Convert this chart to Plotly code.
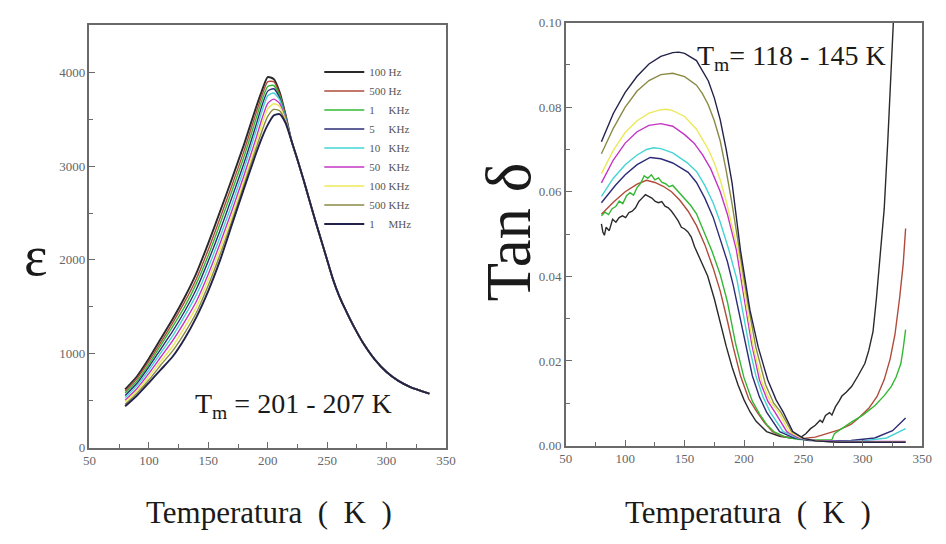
import plotly.graph_objects as go

FONT = "Liberation Serif"

freq_labels = ["100 Hz", "500 Hz", "1\u00a0\u00a0\u00a0\u00a0\u00a0KHz", "5\u00a0\u00a0\u00a0\u00a0\u00a0KHz",
               "10\u00a0\u00a0\u00a0KHz", "50\u00a0\u00a0\u00a0KHz", "100 KHz", "500 KHz",
               "1\u00a0\u00a0\u00a0\u00a0\u00a0MHz"]
colors = ["#2a2a2a", "#b04a3a", "#33b833", "#2c2c78", "#45d4d4", "#c434c4", "#ece85a", "#8a8a45", "#22224a"]

# ---------------- permittivity (left) ----------------
T_eps_head = [80, 90, 100, 110, 120, 130, 140, 150, 160, 170, 180, 190, 195, 200, 205, 210, 215]
T_eps_tail = [220, 225, 230, 235, 240, 245, 250, 255, 260, 265, 270, 275, 280, 290, 300, 310, 320, 336]
eps_tail = [3270, 3070, 2860, 2640, 2420, 2210, 2000, 1790, 1620, 1480, 1350, 1230, 1120, 940, 805, 710, 645, 575]

eps_100Hz = [620, 760, 950, 1160, 1370, 1600, 1860, 2180, 2520, 2870, 3230, 3620, 3800, 3950, 3930, 3790, 3550]
eps_500Hz = [600, 735, 920, 1120, 1330, 1550, 1800, 2110, 2450, 2800, 3160, 3560, 3750, 3900, 3900, 3770, 3540]
eps_1kHz = [580, 710, 890, 1090, 1290, 1500, 1750, 2050, 2390, 2740, 3100, 3500, 3700, 3850, 3860, 3750, 3530]
eps_5kHz = [555, 685, 860, 1050, 1240, 1450, 1690, 1990, 2320, 2670, 3030, 3430, 3640, 3800, 3825, 3730, 3520]
eps_10kHz = [530, 660, 825, 1010, 1190, 1400, 1630, 1920, 2250, 2600, 2970, 3370, 3580, 3750, 3780, 3710, 3510]
eps_50kHz = [505, 630, 790, 965, 1140, 1340, 1560, 1850, 2180, 2530, 2900, 3290, 3500, 3670, 3715, 3670, 3495]
eps_100kHz = [485, 605, 755, 920, 1080, 1280, 1500, 1790, 2120, 2470, 2840, 3230, 3440, 3610, 3665, 3640, 3485]
eps_500kHz = [460, 580, 720, 880, 1030, 1220, 1440, 1730, 2060, 2420, 2800, 3180, 3370, 3530, 3605, 3590, 3470]
eps_1MHz = [440, 555, 690, 830, 970, 1160, 1390, 1670, 2000, 2380, 2760, 3130, 3300, 3440, 3540, 3555, 3460]

eps_heads = [eps_100Hz, eps_500Hz, eps_1kHz, eps_5kHz, eps_10kHz, eps_50kHz, eps_100kHz, eps_500kHz, eps_1MHz]

# ---------------- tan delta (right) ----------------
T_tan_100Hz = [80, 81.2, 82.5, 83.9, 86.6, 89.4, 92.2, 94.9, 97.7, 100.4, 103.2, 105.9, 108.7, 111.5, 114.2, 117,
               119.7, 122.5, 125.3, 128, 130.8, 133.5, 136.3, 139, 141.8, 144.6, 147.3, 150.1, 152.8, 155.6, 158.4,
               164, 169.4, 175, 180, 185, 190, 195, 200, 205, 210, 219, 230, 240, 248, 252, 256, 260, 264, 266,
               268.6, 272, 274, 277, 280, 282.4, 286, 290.7, 296, 301.7, 305, 308.6, 311.4, 315.5, 318, 321, 323.8,
               325.2, 327]
tan_100Hz = [.0524, .0505, .0497, .0516, .0508, .0535, .0528, .0539, .0543, .0539, .0551, .0554, .0562, .0577, .0585,
             .0593, .0589, .0585, .0577, .0574, .0577, .0566, .0562, .0554, .0543, .0531, .0516, .0512, .0505, .0493,
             .0470, .0436, .0401, .0347, .0290, .0235, .0185, .0143, .0108, .0080, .0058, .0033, .0022, .0018, .0020,
             .0028, .0040, .0048, .0060, .0055, .0071, .0078, .0072, .0092, .0105, .0117, .0126, .0140, .0165, .0194,
             .0225, .0270, .0347, .0470, .0560, .0720, .0900, .0991, .1080]

T_tan_500Hz = [80, 90, 100, 110, 118, 125, 132, 139, 146, 153, 160, 167, 174, 180, 186, 191, 197, 204, 211, 217, 224,
               232, 240, 250, 260, 270, 280, 290, 296, 305, 312, 318, 323, 327, 331, 334, 336]
tan_500Hz = [.0547, .0575, .0600, .0618, .0627, .0622, .0613, .0600, .0580, .0554, .0520, .0475, .0420, .0365, .0295,
             .0232, .0165, .0110, .0079, .0055, .0033, .0022, .0018, .0017, .0020, .0028, .0037, .0050, .0064, .0088,
             .0116, .0156, .0205, .0262, .0350, .0430, .0513]

T_tan_1kHz = [80, 83, 86, 89, 92, 95, 98, 101, 104, 107, 110, 113, 116, 119, 122, 125, 128, 131, 134, 137, 140, 145,
              150, 155, 160, 166, 173, 180, 186, 193, 200, 207, 213, 219, 225, 235, 245, 255, 265, 274, 276, 282, 290,
              300, 310, 318, 324, 328, 332, 334, 336]
tan_1kHz = [.0543, .0552, .0546, .0560, .0565, .0578, .0572, .0590, .0598, .0592, .0610, .0620, .0638, .0632, .0640,
            .0628, .0633, .0622, .0619, .0612, .0615, .0600, .0585, .0568, .0548, .0508, .0460, .0404, .0340, .0240,
            .0160, .0105, .0075, .0050, .0033, .0020, .0015, .0013, .0013, .0014, .0028, .0040, .0055, .0072, .0094,
            .0118, .0140, .0162, .0194, .0230, .0274]

T_tan_5kHz = [80, 92, 100, 110, 121, 130, 140, 153, 160, 167, 174, 180, 186, 191, 196, 201.5, 207, 213, 219, 230, 242,
              255, 270, 290, 310, 325, 336]
tan_5kHz = [.0574, .0616, .0640, .0664, .0681, .0678, .0668, .0646, .0622, .0585, .0540, .0490, .0435, .0378, .0310,
            .0232, .0165, .0115, .0079, .0033, .0018, .0012, .0011, .0012, .0018, .0035, .0065]

T_tan_10kHz = [80, 90, 100, 110, 118, 124, 130, 140, 152, 160, 167, 174, 180, 187, 194, 199, 204.5, 210, 216, 222,
               233, 245, 260, 280, 300, 320, 336]
tan_10kHz = [.0589, .0632, .0664, .0687, .0700, .0704, .0702, .0692, .0669, .0648, .0615, .0574, .0528, .0465, .0393,
             .0315, .0232, .0165, .0115, .0079, .0033, .0018, .0012, .0010, .0011, .0018, .0040]

T_tan_50kHz = [80, 90, 100, 110, 120, 130, 140, 150, 158, 165, 172, 180, 186, 193.6, 200, 206.5, 213, 220, 226, 236,
               246, 260, 280, 300, 336]
tan_50kHz = [.0621, .0675, .0715, .0742, .0757, .0761, .0755, .0735, .0715, .0688, .0654, .0600, .0547, .0462, .0350,
             .0240, .0155, .0105, .0079, .0033, .0018, .0012, .0010, .0010, .0010]

T_tan_100kHz = [80, 90, 100, 110, 120, 130, 135, 140, 150, 160, 170, 175, 180, 185, 190, 195, 201, 208, 215, 222, 229,
                238, 248, 260, 280, 336]
tan_100kHz = [.0643, .0698, .0740, .0768, .0786, .0794, .0795, .0792, .0778, .0748, .0700, .0668, .0628, .0578, .0518,
              .0462, .0350, .0232, .0150, .0105, .0079, .0033, .0018, .0011, .0008, .0008]

T_tan_500kHz = [80, 90, 100, 110, 120, 130, 140, 150, 160, 165, 170, 175, 180, 185, 190, 196, 203, 210, 218, 225, 231,
                240, 250, 260, 280, 336]
tan_500kHz = [.0690, .0750, .0800, .0838, .0863, .0877, .0880, .0872, .0852, .0832, .0805, .0768, .0720, .0650, .0570,
              .0462, .0340, .0232, .0145, .0100, .0079, .0033, .0017, .0011, .0008, .0008]

T_tan_1MHz = [80, 90, 100, 110, 120, 130, 140, 145, 150, 160, 170, 175, 180, 185, 190, 197, 205, 212, 220, 227, 233,
              241, 250, 260, 280, 300, 320, 336]
tan_1MHz = [.0718, .0785, .0835, .0873, .0902, .0920, .0929, .0930, .0927, .0910, .0862, .0822, .0770, .0700, .0620,
            .0462, .0320, .0232, .0155, .0108, .0079, .0033, .0017, .0011, .0008, .0008, .0008, .0008]

T_tan = [T_tan_100Hz, T_tan_500Hz, T_tan_1kHz, T_tan_5kHz, T_tan_10kHz, T_tan_50kHz, T_tan_100kHz, T_tan_500kHz, T_tan_1MHz]
tan_vals = [tan_100Hz, tan_500Hz, tan_1kHz, tan_5kHz, tan_10kHz, tan_50kHz, tan_100kHz, tan_500kHz, tan_1MHz]

fig = go.Figure()

for i, lab in enumerate(freq_labels):
    w = 1.9 if i in (0, 8) else 1.4
    fig.add_trace(go.Scatter(x=T_eps_head + T_eps_tail, y=eps_heads[i] + eps_tail, mode="lines",
                             line=dict(color=colors[i], width=w, shape="spline", smoothing=0.6),
                             name=lab, xaxis="x", yaxis="y", showlegend=True))

for i, lab in enumerate(freq_labels):
    fig.add_trace(go.Scatter(x=T_tan[i], y=tan_vals[i], mode="lines",
                             line=dict(color=colors[i], width=1.4),
                             name=lab, xaxis="x2", yaxis="y2", showlegend=False))

axis_common = dict(showline=True, linecolor="#6a6a6a", linewidth=1.5, mirror=True, ticks="inside",
                   ticklen=6, tickcolor="#6a6a6a", showgrid=False, zeroline=False,
                   tickfont=dict(family=FONT, size=13, color="#666666"))

fig.update_layout(
    width=946, height=544, margin=dict(l=0, r=0, t=0, b=0),
    paper_bgcolor="white", plot_bgcolor="white",
    font=dict(family=FONT, color="#222222"),
    xaxis=dict(domain=[84 / 946, 447 / 946], range=[50, 350], dtick=50, anchor="y",
               minor=dict(dtick=25, ticks="inside", ticklen=4, tickcolor="#6a6a6a"), **axis_common),
    yaxis=dict(domain=[91 / 544, 525 / 544], range=[0, 4500], tickvals=[0, 1000, 2000, 3000, 4000], anchor="x",
               minor=dict(tickvals=[500, 1500, 2500, 3500], ticks="inside", ticklen=4, tickcolor="#6a6a6a"),
               **axis_common),
    xaxis2=dict(domain=[569 / 946, 932 / 946], range=[50, 350], dtick=50, anchor="y2",
                minor=dict(dtick=25, ticks="inside", ticklen=4, tickcolor="#6a6a6a"), **axis_common),
    yaxis2=dict(domain=[93 / 544, 528 / 544], range=[0, 0.10], dtick=0.02, tickformat=".2f", anchor="x2",
                minor=dict(dtick=0.01, ticks="inside", ticklen=4, tickcolor="#6a6a6a"), **axis_common),
    legend=dict(x=318 / 946, y=1 - 52 / 544, xanchor="left", yanchor="top", bgcolor="rgba(0,0,0,0)",
                font=dict(family=FONT, size=11, color="#555555"), tracegroupgap=0, itemwidth=40),
)

ann = [
    dict(text="\u03b5", x=30 / 946, y=1 - 256 / 544, font=dict(size=56)),
    dict(text="Tan \u03b4", x=511 / 946, y=1 - 231 / 544, textangle=-90, font=dict(size=63)),
    dict(text="Temperatura\u2002(\u2002K\u2002)", x=267 / 946, y=1 - 520 / 544, font=dict(size=31)),
    dict(text="Temperatura\u2002(\u2002K\u2002)", x=755 / 946, y=1 - 520 / 544, font=dict(size=31)),
    dict(text="T<sub>m</sub> = 201 - 207 K", x=292 / 946, y=1 - 410 / 544, font=dict(size=28)),
    dict(text="T<sub>m</sub>= 118 - 145 K", x=799 / 946, y=1 - 52 / 544, font=dict(size=28)),
]
for a in ann:
    a.update(xref="paper", yref="paper", showarrow=False, xanchor="center", yanchor="middle")
    a["font"].update(family=FONT, color="#1a1a1a")
fig.update_layout(annotations=ann)

fig.write_html("out.html")
